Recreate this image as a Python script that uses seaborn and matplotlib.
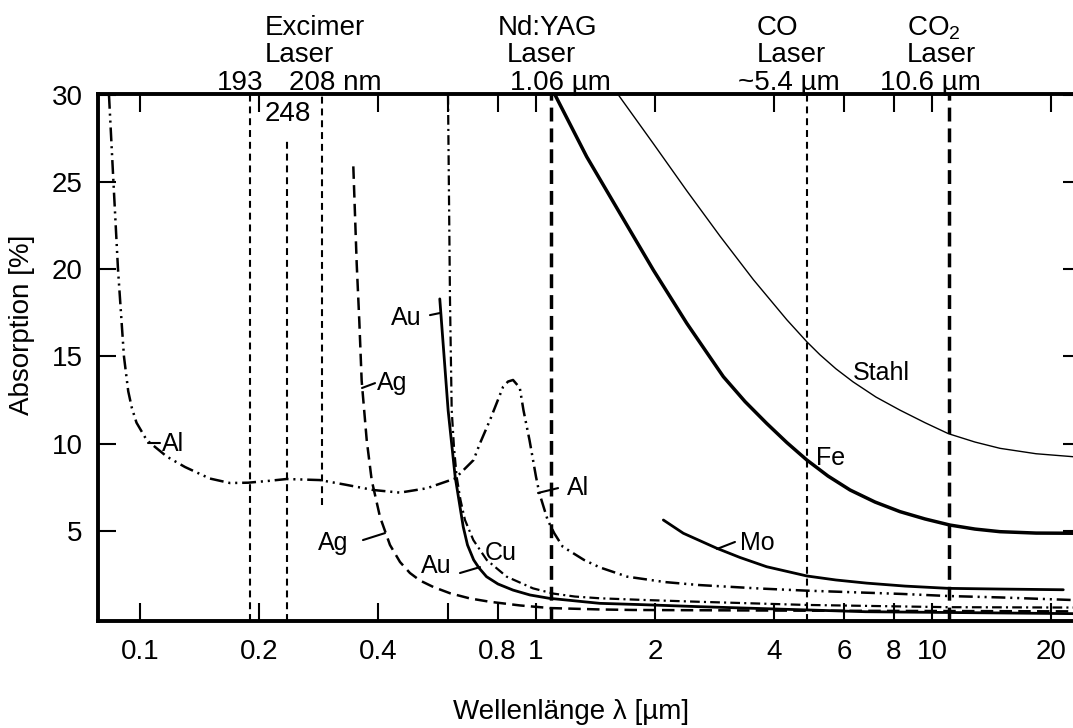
import matplotlib
matplotlib.use("Agg")
import matplotlib.pyplot as plt
import seaborn as sns
from matplotlib.ticker import FixedLocator, FixedFormatter, NullLocator

# absorption curves: wavelength [µm], absorption [%]
al_x = [0.0835, 0.0857, 0.0880, 0.0911, 0.0934, 0.0954, 0.098, 0.104, 0.117, 0.1299,
        0.150, 0.1688, 0.1877, 0.2106, 0.2346, 0.2845, 0.3294, 0.3883, 0.4535, 0.53,
        0.6247, 0.6956, 0.7215, 0.7652, 0.826, 0.85, 0.875, 0.91, 0.93, 0.963, 1.0,
        1.02, 1.07, 1.112, 1.168, 1.322, 1.45, 1.7, 2.118, 2.58, 3.679, 4.8, 8.4,
        11.0, 14.85, 22.7]
al_y = [30.0, 25.0, 20.0, 15.0, 13.0, 12.04, 11.2, 10.2, 9.25, 8.66,
        8.0, 7.74, 7.76, 7.86, 7.97, 7.91, 7.65, 7.34, 7.19, 7.44,
        8.0, 9.06, 10.0, 11.35, 13.26, 13.56, 13.65, 13.2, 11.9, 10.2, 8.1,
        7.15, 5.62, 4.86, 4.09, 3.33, 2.9, 2.37, 2.06, 1.89, 1.69, 1.57, 1.38,
        1.26, 1.18, 1.03]

cu_x = [0.5995, 0.6065, 0.6125, 0.6207, 0.6305, 0.6446, 0.6617, 0.6946, 0.7508,
        0.8433, 0.9827, 1.106, 1.254, 1.451, 1.896, 2.58, 4.80, 11.0, 22.7]
cu_y = [30.0, 18.23, 11.93, 9.8, 8.1, 6.77, 5.62, 4.47, 3.33,
        2.37, 1.70, 1.40, 1.23, 1.13, 1.03, 0.93, 0.75, 0.62, 0.6]

au_x = [0.5715, 0.6, 0.625, 0.655, 0.6714, 0.696, 0.718, 0.75, 0.8017, 0.875,
        0.9656, 1.08, 1.45, 1.83, 2.58, 6.8, 22.7]
au_y = [18.3, 11.9, 8.1, 5.23, 4.19, 3.33, 2.87, 2.37, 1.95, 1.6,
        1.32, 1.13, 0.84, 0.77, 0.65, 0.36, 0.25]

ag_x = [0.3457, 0.3526, 0.358, 0.3629, 0.3737, 0.3847, 0.4037, 0.4278, 0.4536,
        0.4805, 0.5094, 0.5503, 0.6065, 0.6813, 0.765, 0.9113, 1.085, 1.45, 1.76,
        4.8, 22.7]
ag_y = [25.9, 20.3, 17.0, 13.6, 10.2, 7.9, 5.8, 4.19, 3.21,
        2.58, 2.15, 1.78, 1.42, 1.12, 0.93, 0.72, 0.57, 0.49, 0.46,
        0.42, 0.38]

fe_x = [1.117, 1.343, 1.630, 1.979, 2.403, 2.672, 2.972, 3.372, 3.824, 4.30, 4.83,
        5.463, 6.21, 7.18, 8.30, 9.60, 11.1, 12.84, 14.85, 18.31, 22.7]
fe_y = [30.0, 26.45, 23.2, 19.95, 16.9, 15.37, 13.84, 12.41, 11.16, 10.06, 9.06,
        8.14, 7.34, 6.65, 6.1, 5.68, 5.33, 5.10, 4.95, 4.87, 4.86]

stahl_x = [1.614, 1.979, 2.403, 2.915, 3.54, 4.30, 4.83, 5.21, 5.72, 6.32, 7.22,
           8.30, 9.60, 11.0, 12.84, 14.85, 18.31, 22.7]
stahl_y = [30.0, 27.2, 24.5, 21.9, 19.4, 17.1, 15.84, 15.10, 14.29, 13.54, 12.67,
           11.92, 11.20, 10.57, 10.09, 9.73, 9.42, 9.25]

mo_x = [2.097, 2.355, 2.86, 3.275, 3.824, 4.83, 5.72, 6.84, 8.55, 11.0, 14.85, 21.45]
mo_y = [5.62, 4.86, 4.0, 3.47, 2.94, 2.41, 2.18, 2.0, 1.83, 1.70, 1.66, 1.62]

# laser wavelengths (positions as drawn) and vertical extent of each marker line
laser_x = [0.1896, 0.235, 0.288, 1.091, 4.83, 11.04]
laser_ymin = [-0.2, -0.2, 6.48, -0.2, -0.2, -0.2]
laser_ymax = [30.1, 27.6, 30.1, 30.1, 30.1, 30.1]

x_ticks = [0.1, 0.2, 0.4, 0.6, 0.8, 1, 2, 4, 6, 8, 10, 20]
x_tick_labels = ["0.1", "0.2", "0.4", "", "0.8", "1", "2", "4", "6", "8", "10", "20"]
y_ticks = [5, 10, 15, 20, 25, 30]
y_tick_labels = ["5", "10", "15", "20", "25", "30"]

sns.set_theme(style="ticks")
plt.rcParams["font.family"] = ["Liberation Sans", "DejaVu Sans"]
plt.rcParams["mathtext.fontset"] = "custom"
plt.rcParams["mathtext.rm"] = "Liberation Sans"
plt.rcParams["lines.scale_dashes"] = False
plt.rcParams["text.color"] = "black"
plt.rcParams["axes.labelcolor"] = "black"

fig = plt.figure(figsize=(10.73, 7.28), dpi=100)
ax = fig.add_axes([98 / 1073, 107 / 728, 983 / 1073, 527 / 728])

# laser marker lines
laser_styles = [(1.5, (5, 3.5)), (1.5, (5, 3.5)), (1.5, (5, 3.5)),
                (2.5, (10, 5)), (1.5, (5, 3.5)), (2.5, (10, 5))]
for lx, y0, y1, (lw, dash) in zip(laser_x, laser_ymin, laser_ymax, laser_styles):
    ax.vlines(lx, y0, y1, color="black", lw=lw, linestyles=[(0, dash)])

curves = [
    (al_x, al_y, 1.8, (0, (10, 3.5, 1.5, 3.5, 1.5, 3.5))),
    (cu_x, cu_y, 1.6, (0, (7, 3, 1.5, 3))),
    (au_x, au_y, 2.0, "-"),
    (ag_x, ag_y, 1.8, (0, (9, 4.5))),
    (fe_x, fe_y, 2.5, "-"),
    (stahl_x, stahl_y, 1.0, "-"),
    (mo_x, mo_y, 2.0, "-"),
]
for cx, cy, lw, ls in curves:
    sns.lineplot(x=cx, y=cy, ax=ax, color="black", linewidth=lw, sort=False)
    ax.lines[-1].set_linestyle(ls)
    ax.lines[-1].set_solid_joinstyle("round")

# curve labels with short leader lines
labels = [
    ("Al", 0.1137, 9.58, "left", (0.1047, 0.1123), (10.03, 10.03)),
    ("Ag", 0.3968, 13.07, "left", (0.3636, 0.3922), (13.19, 13.47)),
    ("Au", 0.5154, 16.8, "right", (0.5399, 0.5722), (17.37, 17.49)),
    ("Ag", 0.3352, 3.90, "right", (0.3657, 0.4156), (4.47, 4.87)),
    ("Au", 0.6136, 2.58, "right", (0.6428, 0.7222), (2.58, 2.92)),
    ("Cu", 0.7433, 3.33, "left", None, None),
    ("Al", 1.198, 7.05, "left", (1.0117, 1.137), (7.17, 7.45)),
    ("Stahl", 6.318, 13.65, "left", None, None),
    ("Fe", 5.095, 8.77, "left", None, None),
    ("Mo", 3.275, 3.90, "left", (2.865, 3.18), (3.96, 4.36)),
]
for txt, tx, ty, ha, lx, ly in labels:
    ax.text(tx, ty, txt, ha=ha, va="baseline", fontsize=18, color="black")
    if lx is not None:
        ax.plot(lx, ly, color="black", lw=1.5)

ax.text(0.2364, 28.5, "248", ha="center", va="baseline", fontsize=20)

ax.set_xscale("log")
ax.set_xlim(0.07834, 23.78)
ax.set_ylim(-0.172, 30.05)
ax.xaxis.set_major_locator(FixedLocator(x_ticks))
ax.xaxis.set_major_formatter(FixedFormatter(x_tick_labels))
ax.xaxis.set_minor_locator(NullLocator())
ax.yaxis.set_major_locator(FixedLocator(y_ticks))
ax.yaxis.set_major_formatter(FixedFormatter(y_tick_labels))
ax.tick_params(which="major", direction="in", length=13, width=1.5, color="black",
               top=True, right=True, labelsize=20, labelcolor="black")
ax.tick_params(axis="x", pad=13)
ax.tick_params(axis="y", pad=11)
for sp in ax.spines.values():
    sp.set_linewidth(2.8)
    sp.set_color("black")
ax.set_xlabel("")
ax.set_ylabel("")

fig.text(22 / 1073, 1 - 325 / 728, "Absorption [%]", rotation=90, ha="center",
         va="center", fontsize=20)
fig.text(571 / 1073, 1 - 712 / 728, "Wellenlänge λ [µm]", ha="center", va="center",
         fontsize=20)

# laser names above the frame (x px, baseline px, alignment)
top_texts = [
    ("Excimer", 265, 35, "left"), ("Laser", 265, 62, "left"),
    ("193", 217, 90, "left"), ("208 nm", 289, 90, "left"),
    ("Nd:YAG", 548, 35, "center"), ("Laser", 541, 62, "center"),
    ("1.06 µm", 560, 90, "center"),
    ("CO", 757, 35, "left"), ("Laser", 757, 62, "left"), ("~5.4 µm", 738, 90, "left"),
    (r"CO$_\mathregular{2}$", 907, 35, "left"), ("Laser", 907, 62, "left"),
    ("10.6 µm", 880, 90, "left"),
]
for txt, px, py, ha in top_texts:
    fig.text(px / 1073, 1 - py / 728, txt, ha=ha, va="baseline", fontsize=20)

fig.savefig("out.png", dpi=100)
